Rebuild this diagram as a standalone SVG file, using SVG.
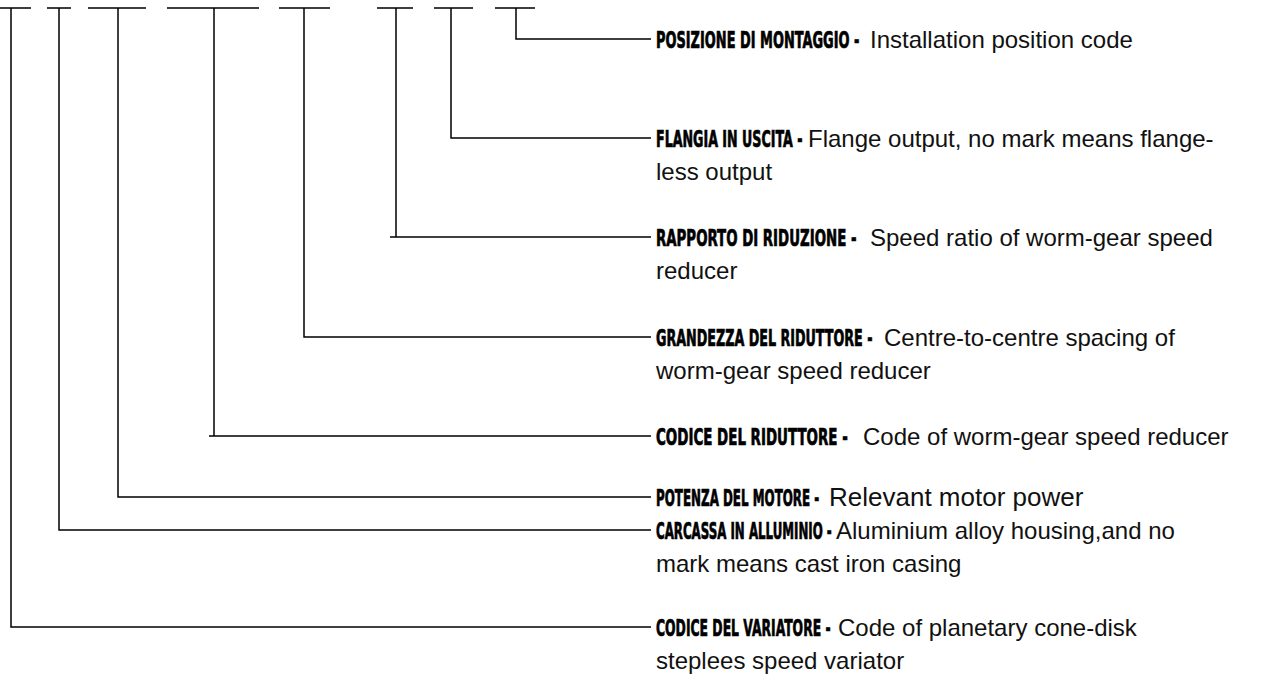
<svg xmlns="http://www.w3.org/2000/svg" width="1263" height="680" viewBox="0 0 1263 680">
<style>
.ln{stroke:#000;stroke-width:1.5;fill:none}
.k{font-family:"DejaVu Sans Condensed","DejaVu Sans","Liberation Sans",sans-serif;font-weight:bold;font-size:23px;fill:#000;stroke:#000;stroke-width:0.7}
.d{font-family:"Liberation Sans",Arial,sans-serif;font-size:24px;fill:#111}
.d2{font-family:"Liberation Sans",Arial,sans-serif;font-size:26px;fill:#111}
</style>
<rect width="1263" height="680" fill="#fff"/>
<g id="connectors" class="ln">
<path d="M0 8H31M47 8H71M88 8H146M167 8H259M279 8H330M377 8H413M434 8H473M495 8H535"/>
<path d="M516 8V39H651"/>
<path d="M451 8V138H651"/>
<path d="M396 8V237M390 237H651"/>
<path d="M304 8V337H651"/>
<path d="M214 8V436M209 436H651"/>
<path d="M118 8V497H651"/>
<path d="M59 8V530H651"/>
<path d="M11 8V627H651"/>
</g>
<g id="n8"><text class="k" transform="translate(656,48) scale(0.626,1)">POSIZIONE DI MONTAGGIO -</text><text class="d" x="870" y="48">Installation position code</text></g>
<g id="n7"><text class="k" transform="translate(656,147) scale(0.612,1)">FLANGIA IN USCITA -</text><text class="d" x="808" y="147">Flange output, no mark means flange-</text><text class="d" x="656" y="180">less output</text></g>
<g id="n6"><text class="k" transform="translate(656,246) scale(0.645,1)">RAPPORTO DI RIDUZIONE -</text><text class="d" x="870" y="246">Speed ratio of worm-gear speed</text><text class="d" x="656" y="279">reducer</text></g>
<g id="n5"><text class="k" transform="translate(656,346) scale(0.615,1)">GRANDEZZA DEL RIDUTTORE -</text><text class="d" x="884" y="346">Centre-to-centre spacing of</text><text class="d" x="656" y="379">worm-gear speed reducer</text></g>
<g id="n4"><text class="k" transform="translate(656,445) scale(0.649,1)">CODICE DEL RIDUTTORE -</text><text class="d" x="863" y="445">Code of worm-gear speed reducer</text></g>
<g id="n3"><text class="k" transform="translate(656,506) scale(0.575,1)">POTENZA DEL MOTORE -</text><text class="d2" x="829" y="506">Relevant motor power</text></g>
<g id="n2"><text class="k" transform="translate(656,539) scale(0.572,1)">CARCASSA IN ALLUMINIO -</text><text class="d" x="836" y="539">Aluminium alloy housing,and no</text><text class="d" x="656" y="572">mark means cast iron casing</text></g>
<g id="n1"><text class="k" transform="translate(656,636) scale(0.599,1)">CODICE DEL VARIATORE -</text><text class="d" x="838" y="636">Code of planetary cone-disk</text><text class="d" x="656" y="669">steplees speed variator</text></g>
</svg>
